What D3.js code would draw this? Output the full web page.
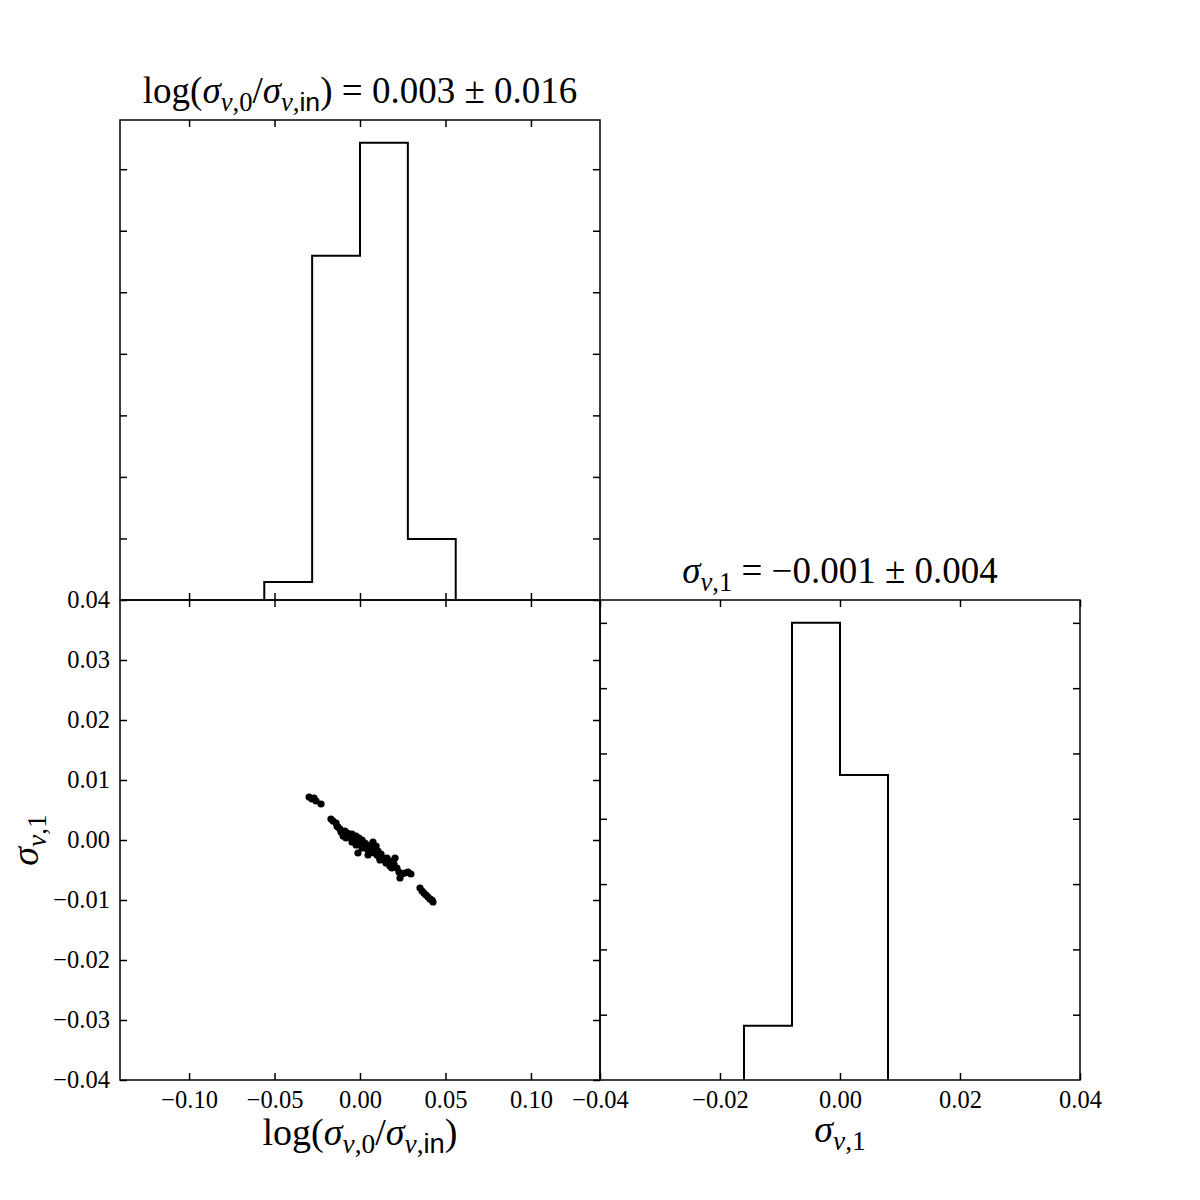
<!DOCTYPE html>
<html><head><meta charset="utf-8">
<script src="https://cdn.jsdelivr.net/npm/d3@7"></script>
<style>body{margin:0;background:#fff}</style>
</head><body>
<svg id="c" width="1200" height="1200"></svg>
<script>
// ---- data ----
const logTicks = [-0.10, -0.05, 0.00, 0.05, 0.10];
const sigTicksY = [-0.04, -0.03, -0.02, -0.01, 0.00, 0.01, 0.02, 0.03, 0.04];
const sigTicksX = [-0.04, -0.02, 0.00, 0.02, 0.04];
const histLogEdges = [-0.056, -0.028, 0.0, 0.028, 0.056];
const histLogDensity = [0.73, 13.98, 18.57, 2.48];
const histLogTicks = [2.5, 5, 7.5, 10, 12.5, 15, 17.5];
const histSigEdges = [-0.016, -0.008, 0.0, 0.008];
const histSigDensity = [8.3, 70.0, 46.7];
const histSigTicks = [10, 20, 30, 40, 50, 60, 70];
const scatterLog = [-0.0298,-0.0281,-0.0269,-0.0257,-0.0228,-0.0170,-0.0158,-0.0140,-0.0135,-0.0117,
  -0.0099,-0.0088,-0.0076,-0.0064,-0.0058,-0.0047,-0.0035,-0.0029,-0.0023,-0.0018,
  -0.0012,-0.0006,0.0000,0.0006,0.0012,0.0018,0.0023,0.0029,0.0035,0.0041,
  0.0047,0.0053,0.0058,0.0064,0.0070,0.0076,0.0082,0.0088,0.0099,0.0105,
  0.0111,0.0117,0.0123,0.0135,0.0146,0.0158,0.0170,0.0175,0.0187,0.0199,
  0.0205,0.0216,0.0228,0.0234,0.0246,0.0263,0.0281,0.0298,-0.0012,-0.0047,
  -0.0082,0.0047,0.0351,0.0363,0.0374,0.0386,0.0398,0.0409,0.0421,0.0427,
  -0.0023,0.0012,0.0094,0.0152,0.0193,-0.0111,-0.0129];
const scatterSig = [0.00717,0.00683,0.00700,0.00650,0.00600,0.00350,0.00317,0.00283,0.00233,0.00183,
  0.00067,0.00150,0.00117,0.00100,0.00067,0.00100,0.00033,0.00000,0.00067,-0.00033,
  0.00000,0.00033,-0.00033,-0.00083,0.00000,-0.00050,-0.00100,-0.00050,-0.00133,-0.00083,
  -0.00167,-0.00100,-0.00150,-0.00200,-0.00133,-0.00033,-0.00217,-0.00167,-0.00250,-0.00183,
  -0.00283,-0.00333,-0.00233,-0.00300,-0.00333,-0.00300,-0.00367,-0.00433,-0.00467,-0.00400,
  -0.00300,-0.00467,-0.00533,-0.00633,-0.00567,-0.00550,-0.00533,-0.00567,-0.00217,-0.00033,
  0.00033,-0.00250,-0.00800,-0.00850,-0.00883,-0.00917,-0.00950,-0.00983,-0.01000,-0.01033,
  -0.00083,-0.00133,-0.00100,-0.00383,-0.00350,0.00133,0.00217];

// ---- layout ----
const svg = d3.select('#c');
const L = 120, M = 600, R = 1080, T = 120;
const FONT = '"Liberation Serif", "DejaVu Serif", serif';
const xLog = d3.scaleLinear().domain([-0.1404, 0.1404]).range([L, M]);
const ySig = d3.scaleLinear().domain([-0.04, 0.04]).range([R, M]);
const xSig = d3.scaleLinear().domain([-0.04, 0.04]).range([M, R]);
const yHL = d3.scaleLinear().domain([0, d3.max(histLogDensity) * 1.05]).range([M, T]);
const yHS = d3.scaleLinear().domain([0, d3.max(histSigDensity) * 1.05]).range([R, M]);
const fmt = d3.format('.2f');
const TK = 7;

function axis(gen, tx, ty, labels) {
  const g = svg.append('g').attr('transform', `translate(${tx},${ty})`).call(gen);
  g.select('.domain').remove();
  g.selectAll('.tick line').attr('stroke', '#000').attr('stroke-width', 1.5);
  g.selectAll('text').attr('font-family', FONT).attr('font-size', 24.5).attr('fill', '#000');
  if (!labels) g.selectAll('text').remove();
  return g;
}

// top-left histogram panel
axis(d3.axisTop(xLog).tickValues(logTicks).tickSize(-TK), 0, T, false);
axis(d3.axisBottom(xLog).tickValues(logTicks).tickSize(-TK), 0, M, false);
axis(d3.axisLeft(yHL).tickValues(histLogTicks).tickSize(-TK), L, 0, false);
axis(d3.axisRight(yHL).tickValues(histLogTicks).tickSize(-TK), M, 0, false);

// bottom-left scatter panel
axis(d3.axisTop(xLog).tickValues(logTicks).tickSize(-TK), 0, M, false);
axis(d3.axisBottom(xLog).tickValues(logTicks).tickSize(-TK).tickPadding(11).tickFormat(fmt), 0, R, true);
axis(d3.axisLeft(ySig).tickValues(sigTicksY).tickSize(-TK).tickPadding(10).tickFormat(fmt), L, 0, true);
axis(d3.axisRight(ySig).tickValues(sigTicksY).tickSize(-TK), M, 0, false);

// bottom-right histogram panel
axis(d3.axisTop(xSig).tickValues(sigTicksX).tickSize(-TK), 0, M, false);
axis(d3.axisBottom(xSig).tickValues(sigTicksX).tickSize(-TK).tickPadding(11).tickFormat(fmt), 0, R, true);
axis(d3.axisLeft(yHS).tickValues(histSigTicks).tickSize(-TK), M, 0, false);
axis(d3.axisRight(yHS).tickValues(histSigTicks).tickSize(-TK), R, 0, false);

// step histograms
function stepPath(edges, vals, x, y) {
  const p = d3.path();
  p.moveTo(x(edges[0]), y(0));
  vals.forEach((v, i) => { p.lineTo(x(edges[i]), y(v)); p.lineTo(x(edges[i + 1]), y(v)); });
  p.lineTo(x(edges[edges.length - 1]), y(0));
  return p.toString();
}
svg.append('path').attr('d', stepPath(histLogEdges, histLogDensity, xLog, yHL))
  .attr('fill', 'none').attr('stroke', '#000').attr('stroke-width', 2);
svg.append('path').attr('d', stepPath(histSigEdges, histSigDensity, xSig, yHS))
  .attr('fill', 'none').attr('stroke', '#000').attr('stroke-width', 2);

// scatter
svg.append('g').selectAll('circle').data(scatterLog).join('circle')
  .attr('cx', d => xLog(d)).attr('cy', (d, i) => ySig(scatterSig[i])).attr('r', 3.6).attr('fill', '#000');

// frames
[[L, T, M - L, M - T], [L, M, M - L, R - M], [M, M, R - M, R - M]].forEach(([x, y, w, h]) =>
  svg.append('rect').attr('x', x).attr('y', y).attr('width', w).attr('height', h)
    .attr('fill', 'none').attr('stroke', '#000').attr('stroke-width', 1.5));

// math text helper
function mathText(parts, x, y, size, rotate) {
  const t = svg.append('text').attr('font-family', FONT).attr('font-size', size)
    .attr('text-anchor', 'middle').attr('fill', '#000');
  if (rotate) t.attr('transform', `translate(${x},${y}) rotate(-90)`);
  else t.attr('x', x).attr('y', y);
  let shifted = false;
  parts.forEach(p => {
    const s = t.append('tspan').text(p.t);
    if (p.it) s.attr('font-style', 'italic');
    if (p.sans) s.attr('font-family', '"Liberation Sans", "DejaVu Sans", sans-serif');
    if (p.sub && !shifted) { s.attr('dy', size * 0.22); shifted = true; }
    if (!p.sub && shifted) { s.attr('dy', -size * 0.22); shifted = false; }
    if (p.sub) s.attr('font-size', size * 0.72);
  });
  return t;
}
const sigma = (sub) => [{ t: 'σ', it: true }, { t: 'v', it: true, sub: true }, { t: ',', sub: true }].concat(sub);
const logLabel = [{ t: 'log(' }]
  .concat(sigma([{ t: '0', sub: true }]))
  .concat([{ t: '/' }])
  .concat(sigma([{ t: 'in', sub: true, sans: true }]))
  .concat([{ t: ')' }]);
const sig1 = sigma([{ t: '1', sub: true }]);

mathText(logLabel.concat([{ t: ' = 0.003 ± 0.016' }]), 360, 103, 37);
mathText(sig1.concat([{ t: ' = −0.001 ± 0.004' }]), 840, 583, 37);
mathText(logLabel, 360, 1145, 38);
mathText(sig1, 840, 1142, 38);
mathText(sig1, 38, 840, 38, true);
</script>
</body></html>
